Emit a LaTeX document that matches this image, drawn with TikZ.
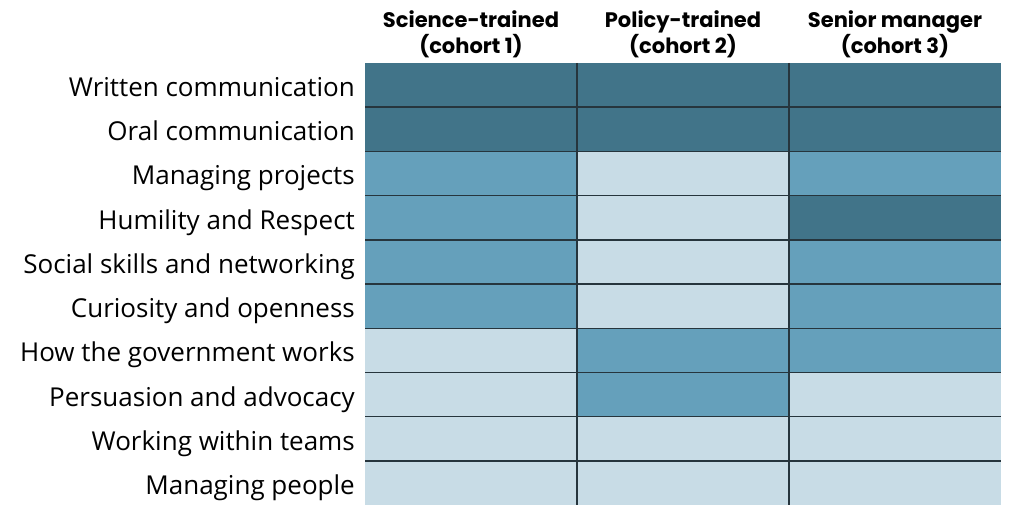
\documentclass[tikz,border=0pt]{standalone}
\usepackage{fontspec}
\setmainfont{Open Sans}
\newfontfamily\headfont{Poppins}
\usetikzlibrary{positioning}
\definecolor{cD}{HTML}{417489}
\definecolor{cM}{HTML}{65A0BB}
\definecolor{cL}{HTML}{C8DCE6}
\definecolor{gridcol}{HTML}{26353D}

\begin{document}
\begin{tikzpicture}[x=1pt,y=-1pt]
\tikzset{
  cell/.style={rectangle, minimum width=212pt, minimum height=44.2pt, inner sep=0pt, outer sep=0pt},
  rowlabel/.style={inner sep=0pt, anchor=base east, font=\fontsize{26}{30}\selectfont},
  head/.style={align=center, inner sep=0pt, font=\headfont\bfseries\fontsize{21}{26}\selectfont},
  gridline/.style={gridcol, line width=1.4pt}
}
\useasboundingbox (0,0) rectangle (1016,505);

% cells and row labels
\foreach \r/\ca/\cb/\cc/\txt in {
  1/cD/cD/cD/Written communication,
  2/cD/cD/cD/Oral communication,
  3/cM/cL/cM/Managing projects,
  4/cM/cL/cD/Humility and Respect,
  5/cM/cL/cM/Social skills and networking,
  6/cM/cL/cM/Curiosity and openness,
  7/cL/cM/cM/How the government works,
  8/cL/cM/cL/Persuasion and advocacy,
  9/cL/cL/cL/Working within teams,
  10/cL/cL/cL/Managing people} {
  \node[cell, fill=\ca, anchor=north west] (c-1-\r) at (365, {63+44.2*(\r-1)}) {};
  \node[cell, fill=\cb, right=0pt of c-1-\r] (c-2-\r) {};
  \node[cell, fill=\cc, right=0pt of c-2-\r] (c-3-\r) {};
  \node[rowlabel] (lbl-\r) at ([xshift=-10pt, yshift=-11.5pt]c-1-\r.west) {\txt};
}

% grid lines
\foreach \r in {1,...,9}
  \draw[gridline] (c-1-\r.south west) -- (c-3-\r.south east);
\foreach \k in {1,2}
  \draw[gridline] (c-\k-1.north east) -- (c-\k-10.south east);

% column headers
\node[head, above=5pt of c-1-1] (h-1) {Science-trained\\(cohort 1)};
\node[head, above=5pt of c-2-1] (h-2) {Policy-trained\\(cohort 2)};
\node[head, above=5pt of c-3-1] (h-3) {Senior manager\\(cohort 3)};
\end{tikzpicture}
\end{document}
